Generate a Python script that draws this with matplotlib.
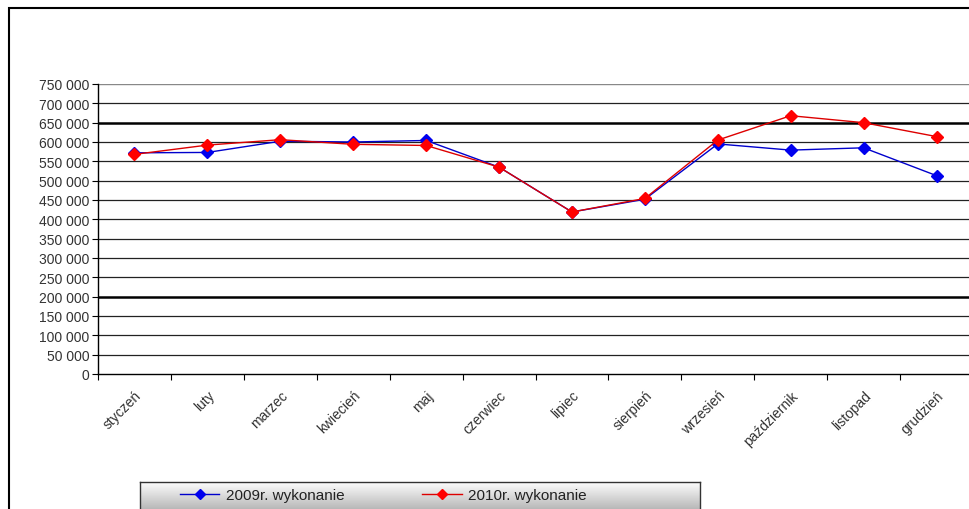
import numpy as np
import matplotlib.pyplot as plt
from matplotlib.patches import Rectangle
from matplotlib.lines import Line2D
from matplotlib.ticker import FuncFormatter

plt.rcParams['font.family'] = ['Liberation Sans', 'DejaVu Sans']

# Data
months = ['styczeń', 'luty', 'marzec', 'kwiecień', 'maj', 'czerwiec',
          'lipiec', 'sierpień', 'wrzesień', 'październik', 'listopad', 'grudzień']
y2009 = [572000, 573000, 602000, 600000, 604000, 535000,
         419000, 452000, 595000, 579000, 585000, 513000]
y2010 = [568000, 592000, 606000, 594000, 591000, 535000,
         419000, 454000, 605000, 668000, 650000, 614000]
label2009 = '2009r. wykonanie'
label2010 = '2010r. wykonanie'
yticks = np.arange(0, 750001, 50000)
thick_lines = [200000, 650000]

fig = plt.figure(figsize=(9.7, 5.1), dpi=100)

# outer chart border
fig.patches.append(Rectangle((9.5 / 970, -0.01), 1.0, 1 - 8.5 / 510 + 0.01,
                             transform=fig.transFigure, fill=False,
                             edgecolor='black', linewidth=1.5))

ax = fig.add_axes([98 / 970, 1 - 375 / 510, 875 / 970, 290 / 510])
x = np.arange(len(months))

for v in yticks:
    if v == 0:
        continue
    if v in thick_lines:
        ax.axhline(v, color='black', linewidth=1.8, zorder=1)
    elif v == yticks[-1]:
        ax.axhline(v, color='#888888', linewidth=1.0, zorder=1)
    else:
        ax.axhline(v, color='#222222', linewidth=0.9, zorder=1)

ax.plot(x, y2009, color='#0000cc', linewidth=1.0, marker='D', markersize=6.5,
        markerfacecolor='#0000ee', markeredgecolor='#0000ee', zorder=3)
ax.plot(x, y2010, color='#dd0000', linewidth=1.0, marker='D', markersize=6.5,
        markerfacecolor='#ff0000', markeredgecolor='#ff0000', zorder=4)

ax.set_xlim(-0.5, len(months) - 0.5)
ax.set_ylim(0, 750000)
ax.set_yticks(yticks)
ax.yaxis.set_major_formatter(FuncFormatter(lambda v, p: f'{int(v):,}'.replace(',', ' ')))
ax.tick_params(axis='y', labelsize=10, length=4, width=0.8, colors='black',
               labelcolor='#333333', pad=2)

ax.set_xticks(x)
ax.set_xticklabels(months, rotation=45, ha='right', rotation_mode='anchor',
                   fontsize=10, color='#333333')
ax.tick_params(axis='x', which='major', length=0, pad=10)
ax.set_xticks(np.arange(-0.5, len(months), 1), minor=True)
ax.tick_params(axis='x', which='minor', length=4, width=0.8)

for s in ['top', 'right']:
    ax.spines[s].set_visible(False)
ax.spines['left'].set_linewidth(1.0)
ax.spines['bottom'].set_linewidth(1.0)

# legend box with gray gradient
lx0, lx1 = 140 / 970, 700 / 970
ly1 = 1 - 483 / 510
grad = np.linspace(1.0, 0.62, 64).reshape(-1, 1)
lax = fig.add_axes([lx0, -0.02, lx1 - lx0, ly1 + 0.02])
lax.imshow(grad, aspect='auto', cmap='gray', vmin=0, vmax=1,
           extent=[0, 1, 0, 1], origin='upper')
lax.set_xlim(0, 1)
lax.set_ylim(0, 1)
lax.set_xticks([])
lax.set_yticks([])
for s in lax.spines.values():
    s.set_color('#333333')
    s.set_linewidth(1.0)

handles = [Line2D([], [], color='#0000cc', marker='D', markersize=5,
                  markerfacecolor='#0000ee', markeredgecolor='#0000ee', linewidth=1.0),
           Line2D([], [], color='#dd0000', marker='D', markersize=5,
                  markerfacecolor='#ff0000', markeredgecolor='#ff0000', linewidth=1.0)]
leg = fig.legend(handles, [label2009, label2010], ncol=2,
                 loc='center left', bbox_to_anchor=(166 / 970, 1 - 496 / 510),
                 frameon=False, fontsize=11, handlelength=2.6,
                 columnspacing=5.1, handletextpad=0.4)
for t in leg.get_texts():
    t.set_color('#222222')

fig.savefig('out.png', dpi=100)
